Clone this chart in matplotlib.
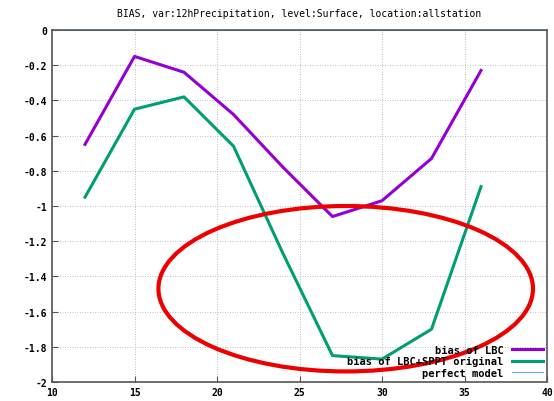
import matplotlib
matplotlib.use('Agg')
import matplotlib.pyplot as plt
from matplotlib.patches import Ellipse
import numpy as np

# lead time (h)
leadHours = [12, 15, 18, 21, 24, 27, 30, 33, 36]
biasLBC = [-0.65, -0.15, -0.24, -0.48, -0.78, -1.06, -0.97, -0.73, -0.23]
biasLBCSPPT = [-0.95, -0.45, -0.38, -0.66, -1.27, -1.85, -1.87, -1.70, -0.89]
perfect = [0, 0]
perfectX = [10, 40]

xTicks = [10, 15, 20, 25, 30, 35, 40]
yTicks = [0, -0.2, -0.4, -0.6, -0.8, -1, -1.2, -1.4, -1.6, -1.8, -2]
yLabels = ['0', '-0.2', '-0.4', '-0.6', '-0.8', '-1', '-1.2', '-1.4', '-1.6', '-1.8', '-2']

plt.rcParams['font.family'] = ['DejaVu Sans Mono']
plt.rcParams['font.weight'] = 'bold'

fig = plt.figure(figsize=(5.54, 4.02), dpi=100)
ax = fig.add_axes([52/554, 1 - 383/402, (547-52)/554, (383-31)/402])

ax.plot(leadHours, biasLBC, color='#9400d3', lw=2.2, label='bias of LBC')
ax.plot(leadHours, biasLBCSPPT, color='#009e73', lw=2.2, label='bias of LBC+SPPT original')
ax.plot(perfectX, perfect, color='#56b4e9', lw=0.8, label='perfect model')

ax.set_xlim(10, 40)
ax.set_ylim(-2, 0)
ax.set_xticks(xTicks)
ax.set_yticks(yTicks)
ax.set_yticklabels(yLabels)
ax.tick_params(labelsize=7, direction='in', length=4, color='#555555')
ax.grid(True, linestyle=(0, (1, 2)), color='#aaaaaa', lw=0.6)
for s in ax.spines.values():
    s.set_color('#555555')
    s.set_linewidth(1.2)

ax.set_title('BIAS, var:12hPrecipitation, level:Surface, location:allstation',
             fontsize=7, pad=10)

leg = ax.legend(loc='lower right', frameon=False, markerfirst=False,
                fontsize=7.5, handlelength=3.0, labelspacing=0.15,
                borderaxespad=0.0, handletextpad=0.8)
for t in leg.get_texts():
    t.set_ha('right')

# highlight ellipse
ell = Ellipse((27.8, -1.47), 22.7, 0.94, fill=False, edgecolor='#ee0000',
              lw=3.0, clip_on=False, zorder=5)
ax.add_patch(ell)

fig.savefig('out.png', dpi=100)
